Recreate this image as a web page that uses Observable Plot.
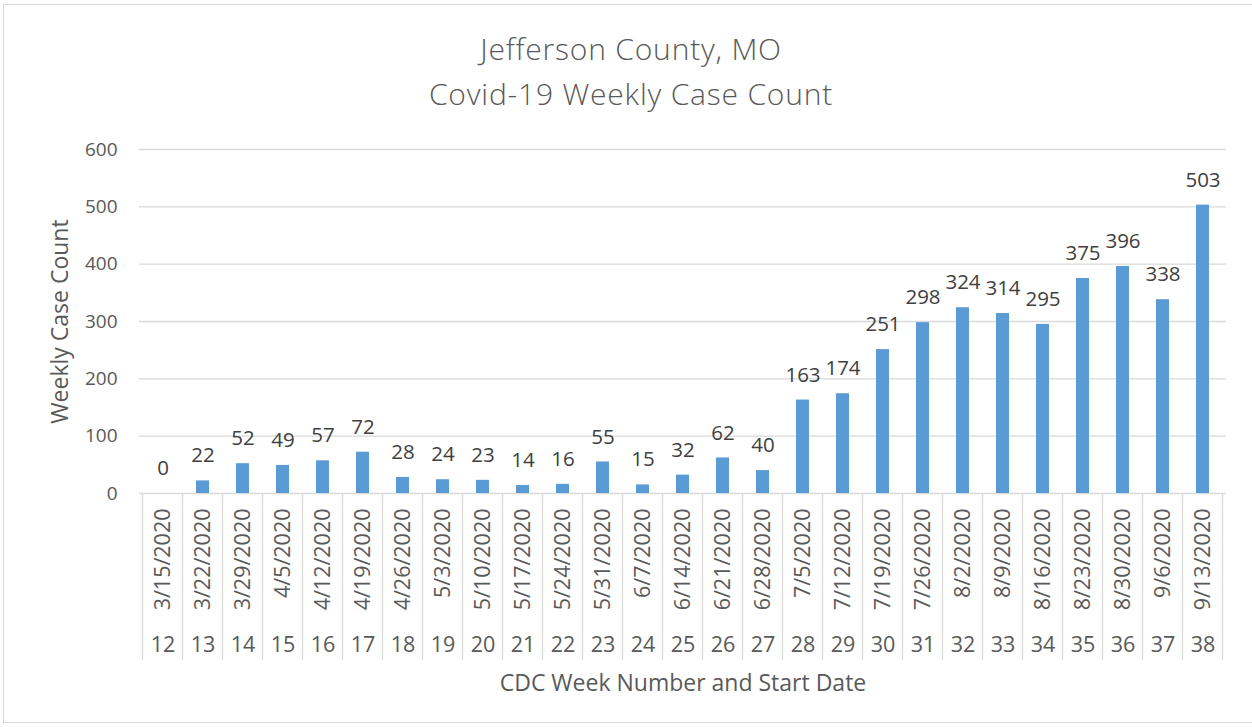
<!DOCTYPE html>
<html>
<head>
<meta charset="utf-8">
<script src="https://cdn.jsdelivr.net/npm/d3@7"></script>
<script src="https://cdn.jsdelivr.net/npm/@observablehq/plot@0.6"></script>
<style>
  html, body { margin: 0; padding: 0; background: #fff; }
  #wrap { position: relative; width: 1252px; height: 727px; overflow: hidden; font-family: "Open Sans", sans-serif; }
  #border { position: absolute; left: 3px; top: 4px; width: 1260px; height: 719px; border: 1px solid #d9d9d9; box-sizing: border-box; }
  #title { position: absolute; left: 5px; top: 0; width: 1252px; height: 130px; text-align: center; color: #595959;
           font-size: 30px; font-weight: 300; letter-spacing: 0.8px; line-height: 45px; padding-top: 26px; box-sizing: border-box; }
  #chart { position: absolute; left: 0; top: 130px; }
</style>
</head>
<body>
<div id="wrap">
  <div id="border"></div>
  <div id="title">Jefferson County, MO<br>Covid-19 Weekly Case Count</div>
  <div id="chart"></div>
</div>
<script>
const weeks = [12,13,14,15,16,17,18,19,20,21,22,23,24,25,26,27,28,29,30,31,32,33,34,35,36,37,38];
const dates = ["3/15/2020","3/22/2020","3/29/2020","4/5/2020","4/12/2020","4/19/2020","4/26/2020","5/3/2020","5/10/2020","5/17/2020","5/24/2020","5/31/2020","6/7/2020","6/14/2020","6/21/2020","6/28/2020","7/5/2020","7/12/2020","7/19/2020","7/26/2020","8/2/2020","8/9/2020","8/16/2020","8/23/2020","8/30/2020","9/6/2020","9/13/2020"];
const cases = [0,22,52,49,57,72,28,24,23,14,16,55,15,32,62,40,163,174,251,298,324,314,295,375,396,338,503];
const yTicks = [0,100,200,300,400,500,600];
const xTitle = "CDC Week Number and Start Date";
const yTitle = "Weekly Case Count";

const data = weeks.map((w, i) => ({week: w, date: dates[i], cases: cases[i]}));

const sepLen = 167;

function separators(index, scales, values, dims) {
  const x = scales.x;
  const bw = x.bandwidth ? x.bandwidth() : 0;
  const step = x(weeks[1]) - x(weeks[0]);
  const top = dims.height - dims.marginBottom;
  const xs = weeks.map(w => x(w) + bw / 2 - step / 2);
  xs.push(x(weeks[weeks.length - 1]) + bw / 2 + step / 2);
  const g = d3.create("svg:g");
  g.selectAll("line").data(xs).join("line")
    .attr("x1", d => d).attr("x2", d => d)
    .attr("y1", top).attr("y2", top + sepLen)
    .attr("stroke", "#d9d9d9").attr("stroke-width", 1.3);
  return g.node();
}

const chart = Plot.plot({
  width: 1252,
  height: 597,
  marginTop: 19,
  marginBottom: 234,
  marginLeft: 139,
  marginRight: 26,
  style: {fontFamily: "Open Sans, sans-serif", background: "transparent"},
  x: {type: "band", domain: weeks, paddingInner: 0.68, paddingOuter: 0.34, axis: null},
  y: {domain: [0, 600], axis: null},
  marks: [
    Plot.ruleY(yTicks, {stroke: "#d9d9d9", strokeWidth: 1.3}),
    Plot.barY(data, {x: "week", y: "cases", fill: "#5b9bd5"}),
    Plot.text(data, {x: "week", y: "cases", text: d => String(d.cases), dy: -25, fontSize: 20.5, fill: "#404040", lineAnchor: "middle"}),
    Plot.text(yTicks, {y: d => d, frameAnchor: "left", text: d => String(d), dx: -22, textAnchor: "end", lineAnchor: "middle", fontSize: 19, fill: "#595959"}),
    separators,
    Plot.text(data, {x: "week", frameAnchor: "bottom", text: "date", rotate: -90, textAnchor: "end", lineAnchor: "middle", dy: 15, fontSize: 21.5, fill: "#595959"}),
    Plot.text(data, {x: "week", frameAnchor: "bottom", text: d => String(d.week), dy: 152, textAnchor: "middle", lineAnchor: "middle", fontSize: 21.5, fill: "#595959"}),
    Plot.text([xTitle], {frameAnchor: "bottom", text: d => d, dy: 190, textAnchor: "middle", lineAnchor: "middle", fontSize: 23, fill: "#595959"}),
    Plot.text([yTitle], {frameAnchor: "left", text: d => d, dx: -79, rotate: -90, textAnchor: "middle", lineAnchor: "middle", fontSize: 23, fill: "#595959"})
  ]
});
document.getElementById("chart").appendChild(chart);
</script>
</body>
</html>
